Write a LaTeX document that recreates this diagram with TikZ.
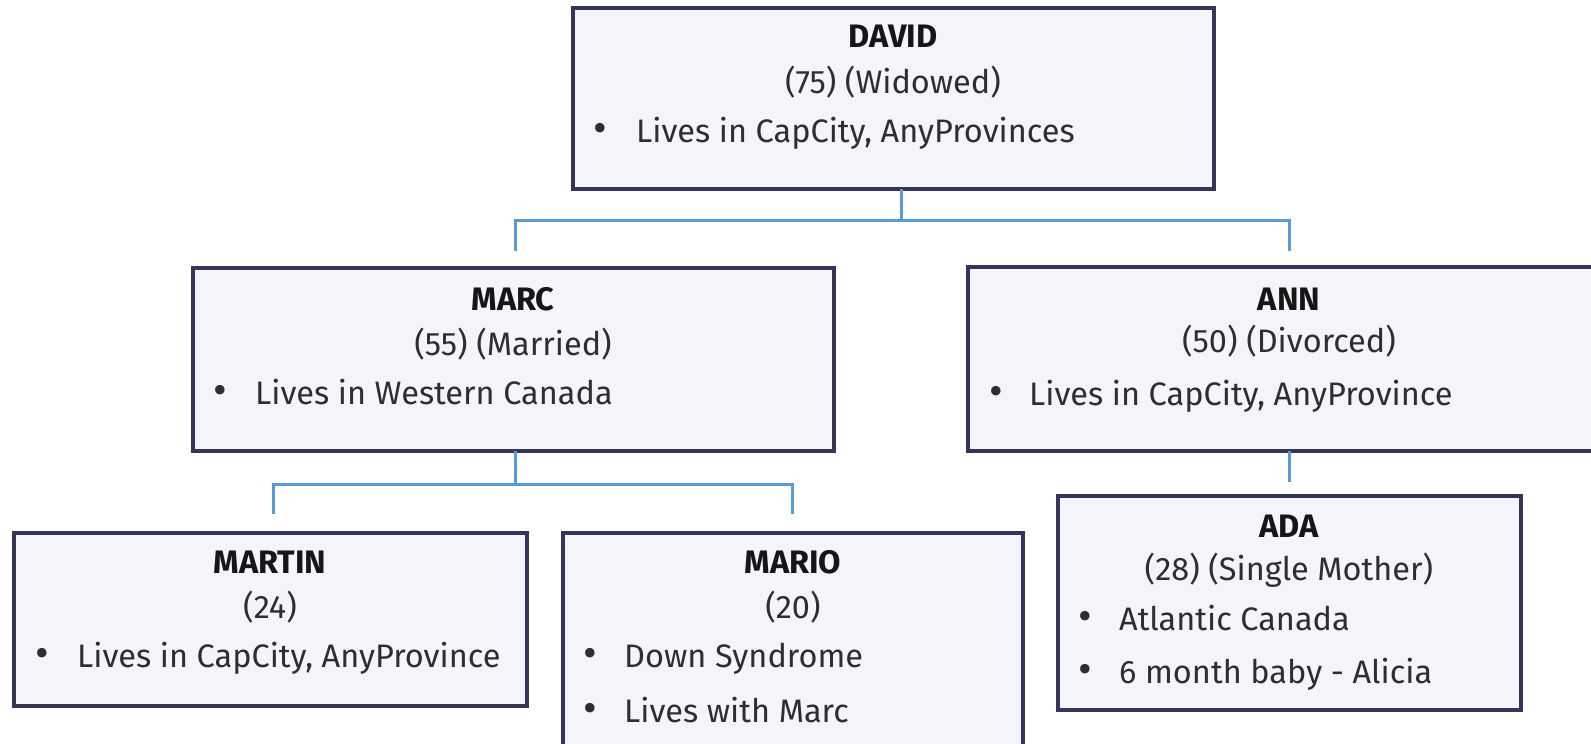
\documentclass[tikz,border=0pt]{standalone}
\usepackage{fontspec}
\setmainfont{Fira Sans}
\definecolor{boxfill}{HTML}{F3F5FB}
\definecolor{boxline}{HTML}{35355A}
\definecolor{conn}{HTML}{5B9BD5}
\definecolor{bodytxt}{HTML}{2E2E2E}
\definecolor{titletxt}{HTML}{161616}
\tikzset{
  box/.style={draw=boxline, fill=boxfill, line width=3.2pt, rectangle, anchor=north west, inner sep=0pt, outer sep=0pt},
  conline/.style={draw=conn, line width=3pt},
  ttl/.style={anchor=base, inner sep=0pt, text=titletxt, font=\fontsize{32.5}{38}\selectfont\bfseries},
  sub/.style={anchor=base, inner sep=0pt, text=bodytxt, font=\fontsize{32.5}{38}\selectfont},
  bul/.style={anchor=base, inner sep=0pt, text=bodytxt, font=\fontsize{42}{48}\selectfont},
  itm/.style={anchor=base west, inner sep=0pt, text=bodytxt, font=\fontsize{32.5}{38}\selectfont},
}
\begin{document}
\begin{tikzpicture}[x=1pt,y=-1pt]
\useasboundingbox (0,0) rectangle (1591,744);
\fill[white] (0,0) rectangle (1591,744);
\clip (0,0) rectangle (1591,744);
% boxes
\node[box, minimum width=641pt, minimum height=181pt] (david) at (573,8) {};
\node[box, minimum width=641pt, minimum height=183pt] (marc) at (193,268) {};
\node[box, minimum width=642pt, minimum height=184pt] (ann) at (968,267) {};
\node[box, minimum width=513pt, minimum height=173pt] (martin) at (14,533) {};
\node[box, minimum width=460pt, minimum height=230pt] (mario) at (563,533) {};
\node[box, minimum width=463pt, minimum height=214pt] (ada) at (1058,496) {};
% connectors
\coordinate (dj) at (901,220);
\coordinate (dl) at (515,251);
\coordinate (dr) at (1289,251);
\draw[conline] (dj |- david.south) -- (dj);
\draw[conline] (dl) -- (dl |- dj) -- (dr |- dj) -- (dr);
\coordinate (mj) at (515,484);
\coordinate (ml) at (273,514);
\coordinate (mr) at (792,514);
\draw[conline] (mj |- marc.south) -- (mj);
\draw[conline] (ml) -- (ml |- mj) -- (mr |- mj) -- (mr);
\coordinate (aj) at (1289,482);
\draw[conline] (aj |- ann.south) -- (aj);
% DAVID text
\node[ttl] (t1) at (893,47) {DAVID};
\node[sub] (s1) at (893,93) {(75) (Widowed)};
\node[bul] (b1) at (600,142) {•};
\node[itm] (i1) at (636,142) {Lives in CapCity, AnyProvinces};
% MARC text
\node[ttl] (t2) at (513,310) {MARC};
\node[sub] (s2) at (513,355) {(55) (Married)};
\node[bul] (b2) at (220,404) {•};
\node[itm] (i2) at (255,404) {Lives in Western Canada};
% ANN text
\node[ttl] (t3) at (1289,310) {ANN};
\node[sub] (s3) at (1289,352) {(50) (Divorced)};
\node[bul] (b3) at (996,405) {•};
\node[itm] (i3) at (1029,405) {Lives in CapCity, AnyProvince};
% MARTIN text
\node[ttl] (t4) at (270,573) {MARTIN};
\node[sub] (s4) at (270,618) {(24)};
\node[bul] (b4) at (42,667) {•};
\node[itm] (i4) at (77,667) {Lives in CapCity, AnyProvince};
% MARIO text
\node[ttl] (t5) at (793,573) {MARIO};
\node[sub] (s5) at (793,618) {(20)};
\node[bul] (b5) at (590,667) {•};
\node[itm] (i5) at (624,667) {Down Syndrome};
\node[bul] (b6) at (590,722) {•};
\node[itm] (i6) at (624,722) {Lives with Marc};
% ADA text
\node[ttl] (t6) at (1289,537) {ADA};
\node[sub] (s6) at (1289,580) {(28) (Single Mother)};
\node[bul] (b7) at (1085,630) {•};
\node[itm] (i7) at (1119,630) {Atlantic Canada};
\node[bul] (b8) at (1085,683) {•};
\node[itm] (i8) at (1119,683) {6 month baby - Alicia};
\end{tikzpicture}
\end{document}
